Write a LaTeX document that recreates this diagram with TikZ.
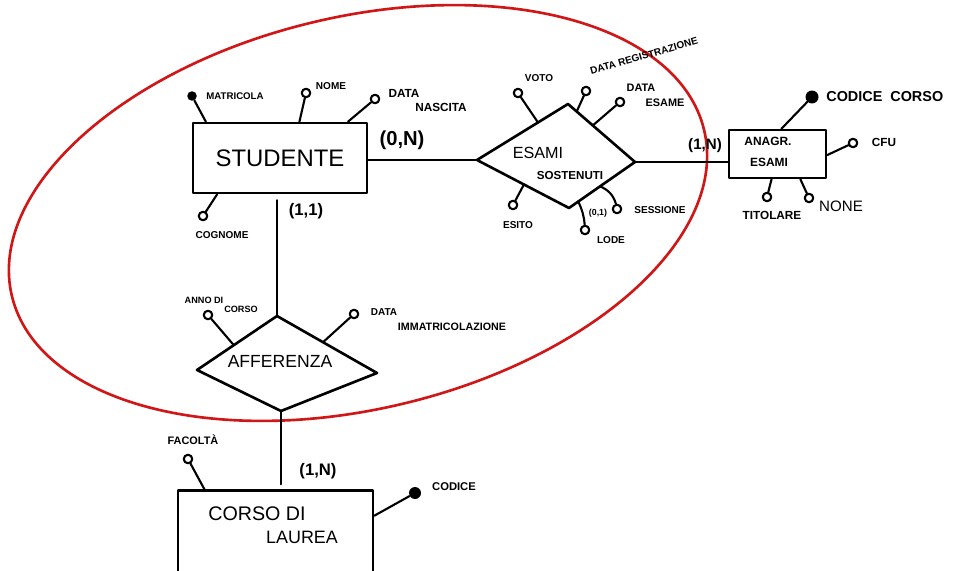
\documentclass[tikz,border=0pt]{standalone}
\usepackage{fontspec}
\setmainfont{Liberation Sans}
\usetikzlibrary{calc}
\definecolor{setred}{RGB}{208,22,22}
\begin{document}
\begin{tikzpicture}[x=0.02cm,y=-0.02cm,
  line cap=round, line join=round,
  ent/.style={draw, line width=1.5pt, inner sep=0},
  rel/.style={draw, line width=1.5pt},
  att/.style={circle, draw, line width=1.2pt, inner sep=0, minimum size=0.17cm},
  key/.style={circle, fill, inner sep=0, minimum size=#1},
  fs/.style={inner sep=0, font=\fontsize{#1}{#1}\selectfont\bfseries},
  link/.style={line width=1.4pt},
  alink/.style={line width=1.2pt}]
\useasboundingbox (0,0) rectangle (957,571);

% red ellipse
\draw[setred, line width=1.5pt, rotate around={13.5:(358,213)}] (358,213) ellipse (7.12cm and 3.92cm);

% entities
\node[ent, minimum width=3.48cm, minimum height=1.4cm, fs=13.6] (stud) at (280,158) {\mdseries STUDENTE};
\node[ent, minimum width=1.94cm, minimum height=0.96cm] (anag) at (777.5,154) {};
\node[ent, minimum width=3.9cm, minimum height=1.66cm] (corso) at (275.5,532) {};

% relationships
\coordinate (esL) at (477,160);
\coordinate (esT) at (568,104);
\coordinate (esR) at (635,162);
\coordinate (esB) at (569,208);
\draw[rel] (esL) -- (esT) -- (esR) -- (esB) -- cycle;
\coordinate (afL) at (197,370);
\coordinate (afT) at (277,316);
\coordinate (afR) at (377,373);
\coordinate (afB) at (281,411);
\draw[rel] (afL) -- (afT) -- (afR) -- (afB) -- cycle;

% relationship texts
\node[fs=9.2] (esT1) at (538,153) {\mdseries ESAMI};
\node[fs=6.6] (esT2) at (570,176) {SOSTENUTI};
\node[fs=10] (afT1) at (280,361) {\mdseries AFFERENZA};
\node[fs=6.8] (anT1) at (768,141) {ANAGR.};
\node[fs=6.8] (anT2) at (769,162) {ESAMI};
\node[fs=11.2] (coT1) at (257,514) {\mdseries CORSO DI};
\node[fs=10.2] (coT2) at (302,537) {\mdseries LAUREA};

% connectors
\draw[link] (esL -| stud.east) -- (esL);
\draw[link] (esR) -- (esR -| anag.west);
\draw[link] ($(stud.south -| afT)+(0,6)$) -- (afT);
\draw[link] (afB) -- ($(corso.north -| afB)+(0,-5)$);

% cardinalities
\node[fs=11.5] (c1) at (402,140) {(0,N)};
\node[fs=9.5] (c2) at (306,211) {(1,1)};
\node[fs=8.6] (c3) at (705,146) {(1,N)};
\node[fs=9.5] (c4) at (318,471) {(1,N)};
\node[fs=5] (c5) at (598,213) {(0,1)};

% STUDENTE attributes
\node[key=0.19cm] (matr) at (192,96) {};
\node[att] (nome) at (306,93) {};
\node[att] (dnasc) at (375,99) {};
\node[att] (cogn) at (203,216) {};
\draw[alink] ($(stud.north west)!0.08!(stud.north east)$) -- (matr);
\draw[alink] ($(stud.north west)!0.61!(stud.north east)$) -- (nome);
\draw[alink] ($(stud.north west)!0.885!(stud.north east)$) -- (dnasc);
\draw[alink] ($(stud.south west)!0.144!(stud.south east)$) -- (cogn);
\node[fs=5.5] (tmatr) at (235,96) {MATRICOLA};
\node[fs=5.7] (tnome) at (331,86) {NOME};
\node[fs=6.7] (tdn1) at (404,93) {DATA};
\node[fs=6.7] (tdn2) at (441,107) {NASCITA};
\node[fs=5.7] (tcogn) at (222,235) {COGNOME};

% ESAMI SOSTENUTI attributes
\node[att] (voto) at (518,93) {};
\node[att] (dreg) at (586,91) {};
\node[att] (desame) at (620,102) {};
\node[att] (esito) at (513,205) {};
\node[att] (lode) at (585,230) {};
\node[att] (sess) at (617,209) {};
\draw[alink] ($(esL)!0.67!(esT)$) -- (voto);
\draw[alink] ($(esT)!0.13!(esR)$) -- (dreg);
\draw[alink] ($(esT)!0.37!(esR)$) -- (desame);
\draw[alink] ($(esL)!0.51!(esB)$) -- (esito);
\draw[alink] ($(esB)!0.14!(esR)$) to[bend left=10] (lode);
\draw[alink] ($(esB)!0.47!(esR)$) to[bend left=25] (sess);
\node[fs=5.7] (tvoto) at (539,78) {VOTO};
\node[fs=5.7, rotate=16] (tdreg) at (644,56) {DATA REGISTRAZIONE};
\node[fs=6.2] (tde1) at (641,88) {DATA};
\node[fs=6.2] (tde2) at (665,103) {ESAME};
\node[fs=5.7] (tesito) at (518,225) {ESITO};
\node[fs=5.7] (tlode) at (611,240) {LODE};
\node[fs=5.7] (tsess) at (660,210) {SESSIONE};

% ANAGR. ESAMI attributes
\node[key=0.26cm] (ccorso) at (812,97) {};
\node[att] (cfu) at (853,143) {};
\node[att] (tit) at (767,197) {};
\node[att] (none) at (809,198) {};
\draw[alink] ($(anag.north west)!0.54!(anag.north east)$) -- (ccorso);
\draw[alink] ($(anag.north east)!0.52!(anag.south east)$) -- (cfu);
\draw[alink] ($(anag.south west)!0.44!(anag.south east)$) -- (tit);
\draw[alink] ($(anag.south west)!0.73!(anag.south east)$) -- (none);
\node[fs=8.2, anchor=west] (tccorso) at (826,97) {CODICE\ \ CORSO};
\node[fs=6.7] (tcfu) at (884,142) {CFU};
\node[fs=6.7] (ttit) at (772,215) {TITOLARE};
\node[fs=8.6] (tnone) at (841,206) {\mdseries NONE};

% AFFERENZA attributes
\node[att] (anno) at (208,315) {};
\node[att] (dimm) at (354,314) {};
\draw[alink] ($(afL)!0.46!(afT)$) -- (anno);
\draw[alink] ($(afT)!0.46!(afR)$) -- (dimm);
\node[fs=5.2] (tan1) at (204,300) {ANNO DI};
\node[fs=5.2] (tan2) at (241,309) {CORSO};
\node[fs=5.7] (tdi1) at (384,312) {DATA};
\node[fs=6.1] (tdi2) at (452,327) {IMMATRICOLAZIONE};

% CORSO DI LAUREA attributes
\node[att] (fac) at (188,459) {};
\node[key=0.24cm] (codice) at (415,493) {};
\draw[alink] ($(corso.north west)!0.14!(corso.north east)$) -- (fac);
\draw[alink] ($(corso.north east)!0.31!(corso.south east)$) -- (codice);
\node[fs=6.2] (tfac) at (193,440) {FACOLTÀ};
\node[fs=6.4] (tcod) at (454,487) {CODICE};
\end{tikzpicture}
\end{document}
